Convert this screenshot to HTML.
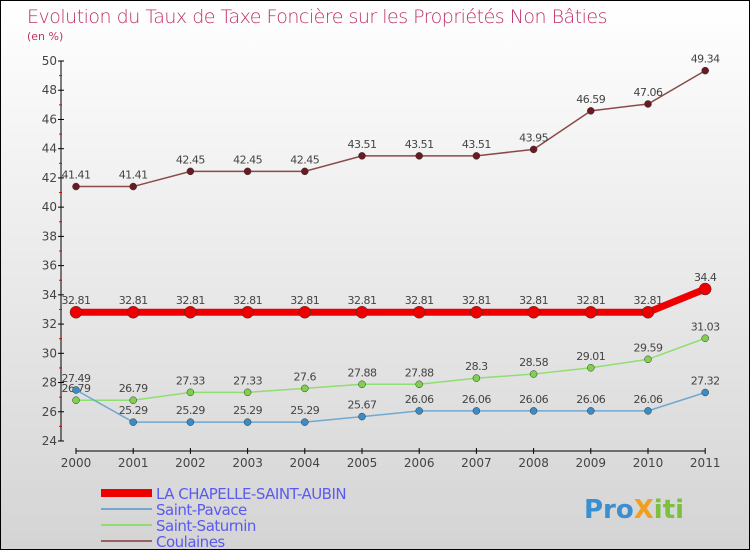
<!DOCTYPE html>
<html><head><meta charset="utf-8"><style>
body{margin:0}
#c{width:748px;height:548px;border:1px solid #000;background:linear-gradient(#fff,#d4d4d4);position:relative;font-family:"DejaVu Sans","Liberation Sans",sans-serif}
</style></head><body>
<div id="c">
<svg id="s" width="748" height="548" xmlns="http://www.w3.org/2000/svg" style="position:absolute;left:0;top:0">
<text x="26" y="22" font-size="19" fill="#c0306a" font-family="DejaVu Sans, sans-serif" font-weight="200" style="letter-spacing:-0.5px">Evolution du Taux de Taxe Foncière sur les Propriétés Non Bâties</text>
<text x="26" y="39" font-size="11" fill="#c0306a">(en %)</text>
<g id="axes"></g><g id="series"></g><g id="legend"></g>
<text x="583" y="517" font-size="26" font-weight="bold" fill="#3a8fd0">Pro<tspan fill="#f0a020">X</tspan><tspan fill="#7cc040">iti</tspan></text>
</svg></div>
<script>
const years=["2000","2001","2002","2003","2004","2005","2006","2007","2008","2009","2010","2011"];
const yTicks=[24,26,28,30,32,34,36,38,40,42,44,46,48,50];
const chapelle=[32.81,32.81,32.81,32.81,32.81,32.81,32.81,32.81,32.81,32.81,32.81,34.4];
const pavace=[27.49,25.29,25.29,25.29,25.29,25.67,26.06,26.06,26.06,26.06,26.06,27.32];
const saturnin=[26.79,26.79,27.33,27.33,27.6,27.88,27.88,28.3,28.58,29.01,29.59,31.03];
const coulaines=[41.41,41.41,42.45,42.45,42.45,43.51,43.51,43.51,43.95,46.59,47.06,49.34];
const NS="http://www.w3.org/2000/svg";
const X=i=>75+i*57.2, Y=v=>60+(50-v)*(380/26);
function mk(p,t,a){const e=document.createElementNS(NS,t);for(const k in a)e.setAttribute(k,a[k]);p.appendChild(e);return e;}
const ax=document.getElementById('axes');
let l=mk(ax,'line',{x1:60,y1:60,x2:60,y2:440,stroke:'#000'});

l=mk(ax,'line',{x1:X(0),y1:450,x2:X(11),y2:450,stroke:'#000'});

yTicks.forEach((v,i)=>{mk(ax,'line',{x1:57,x2:63,y1:Y(v),y2:Y(v),stroke:'#000'});
 if(i<yTicks.length-1)mk(ax,'line',{x1:58,x2:61,y1:Y(v+1),y2:Y(v+1),stroke:'#e00'});
 const t=mk(ax,'text',{x:56,y:Y(v)+4,'font-size':12,fill:'#444','text-anchor':'end'});t.textContent=v;
 });
years.forEach((y,i)=>{mk(ax,'line',{x1:X(i),x2:X(i),y1:447,y2:453,stroke:'#000'});
 const t=mk(ax,'text',{x:X(i),y:466,'font-size':12,fill:'#444','text-anchor':'middle'});t.textContent=y;
 });
const sg=document.getElementById('series');
function draw(d,col,fill,w,r,name,lab){
 const g=mk(sg,'g',{});
 mk(g,'polyline',{points:d.map((v,i)=>X(i)+','+Y(v)).join(' '),fill:'none',stroke:col,'stroke-width':w});
 d.forEach((v,i)=>{const c=mk(g,'circle',{cx:X(i),cy:Y(v),r:r,fill:fill,stroke:'#333','stroke-width':0.5});
  
  const t=mk(g,'text',{x:X(i),y:Y(v)-8,'font-size':11,fill:'#444','text-anchor':'middle','letter-spacing':'-0.5'});t.textContent=String(v);
  });
}
draw(coulaines,'#8b4a4a','#6b1a22',1.5,3.5,'coulaines');
draw(saturnin,'#90dd70','#80d050',1.5,3.5,'saint-saturnin');
draw(pavace,'#70a8d0','#3a8cc8',1.5,3.5,'saint-pavace');
draw(chapelle,'#ee0000','#ee0000',7,6,'la-chapelle');
const lg=document.getElementById('legend');
[["LA CHAPELLE-SAINT-AUBIN","#ee0000",8],["Saint-Pavace","#70a8d0",2],["Saint-Saturnin","#90dd70",2],["Coulaines","#9a6060",2]].forEach((e,i)=>{
 const y=492+i*16;const g=mk(lg,'g',{});
 mk(g,'line',{x1:100,x2:151,y1:y,y2:y,stroke:e[1],'stroke-width':e[2]});
 const t=mk(g,'text',{x:155,y:y+6,'font-size':15,fill:'#5a5af0','letter-spacing':'-0.5'});t.textContent=e[0];});
</script></body></html>
